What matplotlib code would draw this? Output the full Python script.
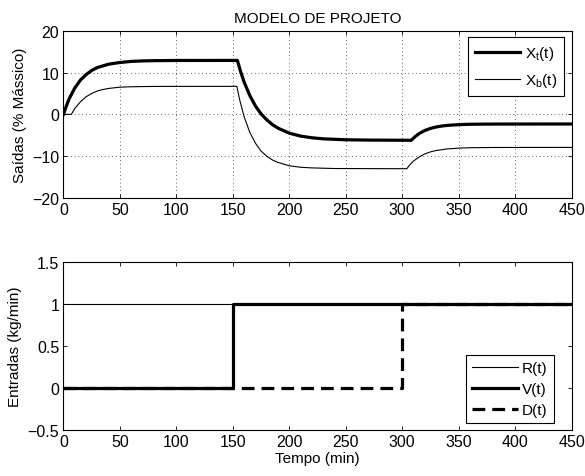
import matplotlib
matplotlib.use("Agg")
import matplotlib.pyplot as plt

plt.rcParams['font.family'] = ['Liberation Sans', 'DejaVu Sans']
plt.rcParams['font.size'] = 11
plt.rcParams['mathtext.fontset'] = 'custom'
plt.rcParams['mathtext.rm'] = 'Liberation Sans'

# Outputs: top-product and bottom-product composition (% mass)
t_xt = [0, 2, 5, 10, 15, 20, 25, 30, 35, 40, 50, 60, 70, 80, 100, 154,
        157, 160, 165, 170, 175, 180, 185, 190, 200, 210, 220, 230, 250, 270, 308,
        311, 315, 320, 325, 330, 335, 340, 350, 360, 380, 450]
xt = [0.0, 1.6, 3.7, 6.3, 8.2, 9.5, 10.5, 11.2, 11.6, 12.0, 12.4, 12.66, 12.78, 12.84, 12.89, 12.9,
      10.1, 7.7, 4.5, 2.0, 0.1, -1.3, -2.45, -3.3, -4.5, -5.2, -5.6, -5.85, -6.08, -6.15, -6.2,
      -5.4, -4.58, -3.86, -3.36, -3.02, -2.79, -2.63, -2.46, -2.37, -2.32, -2.3]

t_xb = [0, 7, 10, 15, 20, 25, 30, 35, 40, 50, 60, 80, 153.5,
        156, 160, 165, 170, 175, 180, 185, 190, 200, 210, 220, 240, 304,
        307, 310, 315, 320, 325, 330, 340, 350, 360, 380, 450]
xb = [0.0, 0.0, 1.4, 3.0, 4.2, 5.0, 5.6, 5.95, 6.2, 6.5, 6.6, 6.68, 6.7,
      3.5, -0.6, -4.3, -6.9, -8.8, -10.0, -10.9, -11.5, -12.3, -12.65, -12.8, -12.95, -13.0,
      -11.98, -11.16, -10.16, -9.46, -8.97, -8.64, -8.26, -8.07, -7.98, -7.92, -7.9]

# Inputs (kg/min), piecewise constant
t_in = [0, 150, 300, 450]
r_in = [1, 1, 1, 1]
v_in = [0, 1, 1, 1]
d_in = [0, 0, 1, 1]

x_ticks = [0, 50, 100, 150, 200, 250, 300, 350, 400, 450]

fig = plt.figure(figsize=(5.85, 4.77), dpi=100)
ax1 = fig.add_axes([0.1085, 0.5828, 0.8687, 0.3507])
ax2 = fig.add_axes([0.1085, 0.0964, 0.8687, 0.3516])

thick = 2.3
thin = 0.8

ax1.plot(t_xt, xt, color='black', lw=thick, label=r'X$_\mathregular{t}$(t)')
ax1.plot(t_xb, xb, color='black', lw=thin, label=r'X$_\mathregular{b}$(t)')
ax1.set_xlim(0, 450)
ax1.set_ylim(-20, 20)
ax1.set_xticks(x_ticks)
ax1.set_yticks([-20, -10, 0, 10, 20])
ax1.set_yticklabels(['\u221220', '\u221210', '0', '10', '20'])
ax1.grid(True, linestyle=(0, (1, 3.5)), color='black', lw=0.6, alpha=0.8)
ax1.set_ylabel('Saídas (% Mássico)', labelpad=4)
ax1.set_title('MODELO DE PROJETO', fontsize=11, pad=6)
leg1 = ax1.legend(loc='upper right', bbox_to_anchor=(0.985, 0.96), borderaxespad=0,
                  handlelength=3.0, fancybox=False, framealpha=1,
                  edgecolor='black', labelspacing=0.6,
                  handletextpad=0.3, borderpad=0.45, fontsize=11)
leg1.get_frame().set_linewidth(0.8)

ax2.plot(t_in, r_in, color='black', lw=thin, drawstyle='steps-post', label='R(t)')
ax2.plot(t_in, v_in, color='black', lw=thick, drawstyle='steps-post', label='V(t)')
ax2.plot(t_in, d_in, color='black', lw=thick, drawstyle='steps-post',
         linestyle=(0, (4.0, 2.2)), label='D(t)')
ax2.set_xlim(0, 450)
ax2.set_ylim(-0.5, 1.5)
ax2.set_xticks(x_ticks)
ax2.set_yticks([-0.5, 0, 0.5, 1, 1.5])
ax2.set_yticklabels(['\u22120.5', '0', '0.5', '1', '1.5'])
ax2.set_ylabel('Entradas (kg/min)', labelpad=4)
ax2.set_xlabel('Tempo (min)', labelpad=1)
leg2 = ax2.legend(loc='lower right', bbox_to_anchor=(0.965, 0.042), borderaxespad=0,
                  handlelength=3.0, fancybox=False, framealpha=1,
                  edgecolor='black', labelspacing=0.45,
                  handletextpad=0.3, borderpad=0.4, fontsize=11)
leg2.get_frame().set_linewidth(0.8)

for ax in (ax1, ax2):
    ax.tick_params(direction='in', top=True, right=True, length=3, width=0.6,
                   labelsize=11.5, pad=3)
    for s in ax.spines.values():
        s.set_linewidth(0.8)

fig.savefig('out.png', dpi=100)
